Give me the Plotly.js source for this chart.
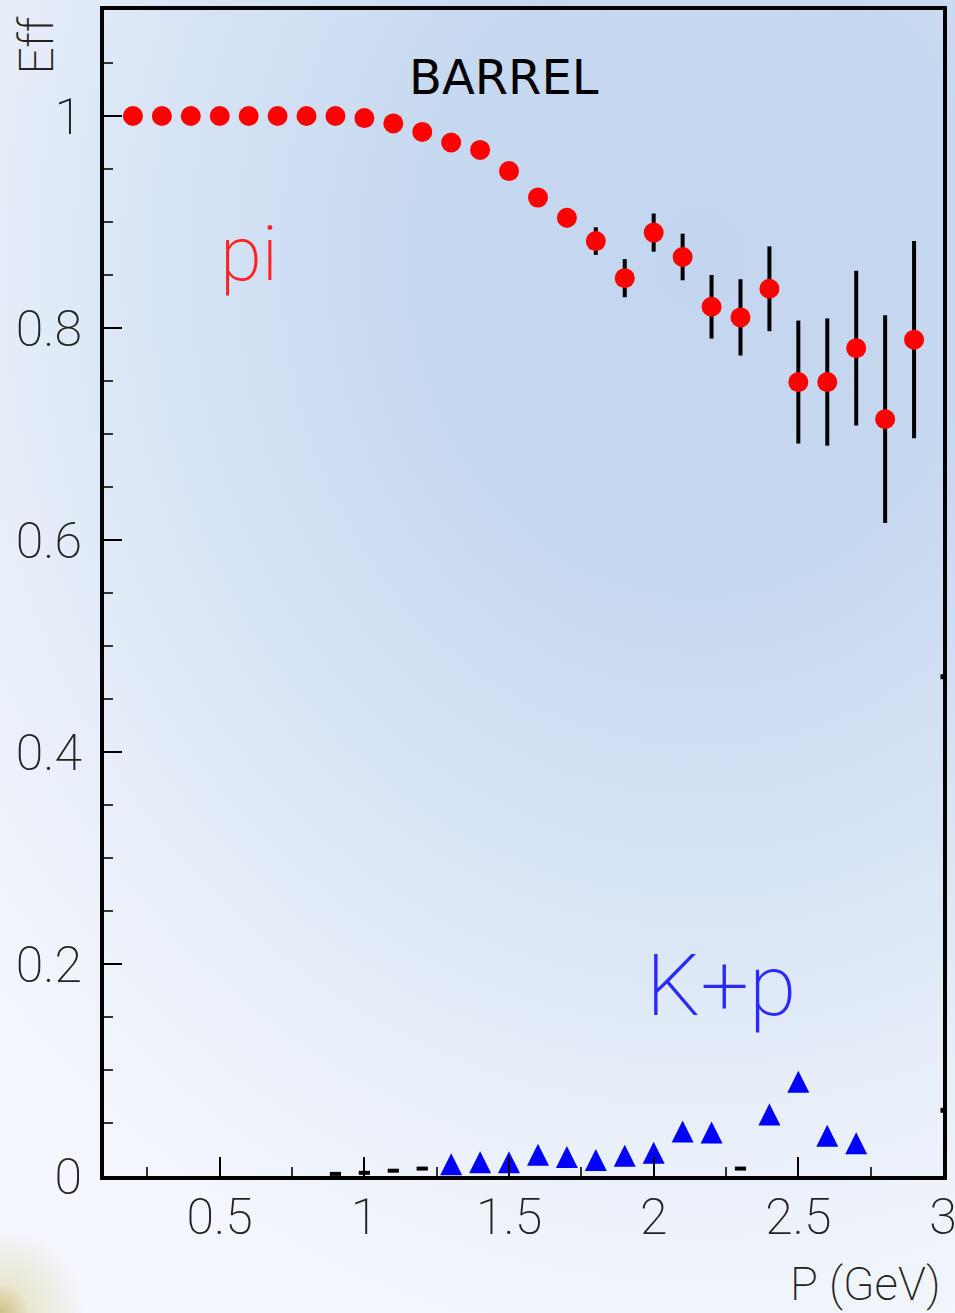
<!DOCTYPE html>
<html>
<head>
<meta charset="utf-8">
<script src="https://cdn.plot.ly/plotly-3.0.1.min.js"></script>
<style>
html, body { margin: 0; padding: 0; width: 955px; height: 1313px; overflow: hidden; }
body {
  background:
    radial-gradient(circle at 0px 1313px, rgba(196,180,100,0.8) 0px, rgba(222,212,160,0.45) 30px, rgba(240,244,250,0) 85px),
    radial-gradient(ellipse 950px 1100px at 700px 260px, #c4d6ef 0%, #c7d9f0 30%, #d6e3f5 55%, #e8eff9 78%, #f3f6fc 100%);
}
#chart { width: 955px; height: 1313px; }
</style>
</head>
<body>
<div id="chart"></div>
<script>
// Pion efficiency vs momentum (BARREL)
const p_pi = [0.2, 0.3, 0.4, 0.5, 0.6, 0.7, 0.8, 0.9, 1.0, 1.1, 1.2, 1.3, 1.4, 1.5,
              1.6, 1.7, 1.8, 1.9, 2.0, 2.1, 2.2, 2.3, 2.4, 2.5, 2.6, 2.7, 2.8, 2.9];
const eff_pi = [1.000, 1.000, 1.000, 1.000, 1.000, 1.000, 1.000, 1.000, 0.998, 0.993,
                0.985, 0.975, 0.968, 0.948, 0.923, 0.904, 0.882, 0.847, 0.890, 0.867,
                0.820, 0.810, 0.837, 0.749, 0.749, 0.781, 0.714, 0.789];
const err_pi = [0, 0, 0, 0, 0, 0, 0, 0, 0.002, 0.003, 0.004, 0.005, 0.006, 0.007,
                0.008, 0.009, 0.013, 0.018, 0.018, 0.022, 0.030, 0.036, 0.040, 0.058,
                0.060, 0.073, 0.098, 0.093];

// K+p misidentification efficiency
const p_kp = [1.3, 1.4, 1.5, 1.6, 1.7, 1.8, 1.9, 2.0, 2.1, 2.2, 2.4, 2.5, 2.6, 2.7];
const eff_kp = [0.011, 0.013, 0.013, 0.020, 0.018, 0.015, 0.019, 0.022, 0.042, 0.041,
                0.058, 0.089, 0.038, 0.031];

// small black markers near zero and at the right edge
const p_low = [0.9, 1.0, 1.1, 1.2, 2.3];
const eff_low = [0.002, 0.003, 0.005, 0.007, 0.007];
const p_edge = [3.0, 3.0];
const eff_edge = [0.471, 0.062];

// tick labels
const xTickVals = [0.5, 1, 1.5, 2, 2.5, 3];
const xTickText = ['0.5', '1', '1.5', '2', '2.5', '3'];
const yTickVals = [0, 0.2, 0.4, 0.6, 0.8, 1];
const yTickText = ['0', '0.2', '0.4', '0.6', '0.8', '1'];

const thinFont = 'Roboto, "DejaVu Sans", sans-serif';

const traces = [
  {
    x: p_low, y: eff_low, type: 'scatter', mode: 'markers',
    marker: { symbol: 'line-ew-open', size: 8, color: 'black', line: { color: 'black', width: 4 } },
    hoverinfo: 'skip'
  },
  {
    x: p_edge, y: eff_edge, type: 'scatter', mode: 'markers', cliponaxis: true,
    marker: { symbol: 'square', size: 5, color: 'black' },
    hoverinfo: 'skip'
  },
  {
    x: p_pi, y: eff_pi, type: 'scatter', mode: 'markers', name: 'pi',
    error_y: { type: 'data', array: err_pi, visible: true, color: 'black', thickness: 4, width: 0 },
    marker: { symbol: 'circle', size: 20, color: '#ff0000' }
  },
  {
    x: p_kp, y: eff_kp, type: 'scatter', mode: 'markers', name: 'K+p',
    marker: { symbol: 'arrow-down', angle: 180, standoff: 11, size: 22, color: '#0000ff' }
  }
];

const layout = {
  width: 955, height: 1313,
  margin: { l: 104, r: 12, t: 10, b: 137 },
  paper_bgcolor: 'rgba(0,0,0,0)',
  plot_bgcolor: 'rgba(0,0,0,0)',
  showlegend: false,
  xaxis: {
    range: [0.1, 3.0],
    tickmode: 'array', tickvals: xTickVals, ticktext: xTickText,
    ticks: 'inside', ticklen: 19, tickwidth: 2, tickcolor: 'black',
    minor: { dtick: 0.25, tick0: 0, ticks: 'inside', ticklen: 9, tickwidth: 2, tickcolor: '#333', showgrid: false },
    showline: true, linewidth: 4, linecolor: 'black', mirror: true,
    showgrid: false, zeroline: false,
    tickfont: { family: thinFont, size: 50, color: '#222', weight: 200 },
    ticklabelstandoff: -6,
    ticklabeloverflow: 'allow'
  },
  yaxis: {
    range: [0, 1.1],
    tickmode: 'array', tickvals: yTickVals, ticktext: yTickText,
    ticks: 'inside', ticklen: 18, tickwidth: 2, tickcolor: 'black',
    minor: { dtick: 0.05, tick0: 0, ticks: 'inside', ticklen: 9, tickwidth: 2, tickcolor: '#333', showgrid: false },
    showline: true, linewidth: 4, linecolor: 'black', mirror: true,
    showgrid: false, zeroline: false,
    tickfont: { family: thinFont, size: 50, color: '#222', weight: 200 },
    ticklabelstandoff: 8,
    ticklabeloverflow: 'allow'
  },
  annotations: [
    { text: 'BARREL', xref: 'x', yref: 'y', x: 1.484, y: 1.037, showarrow: false,
      xanchor: 'center', yanchor: 'middle',
      font: { family: '"DejaVu Sans", sans-serif', size: 48, color: 'black' } },
    { text: 'pi', xref: 'x', yref: 'y', x: 0.60, y: 0.87, showarrow: false,
      xanchor: 'center', yanchor: 'middle',
      font: { family: thinFont, size: 76, color: '#ff2020', weight: 200 } },
    { text: 'K+p', xref: 'x', yref: 'y', x: 2.232, y: 0.18, showarrow: false,
      xanchor: 'center', yanchor: 'middle',
      font: { family: thinFont, size: 86, color: '#2a2aff', weight: 200 } },
    { text: 'Eff', xref: 'paper', yref: 'paper', x: -0.08, y: 0.996, showarrow: false,
      xanchor: 'center', yanchor: 'top', textangle: -90,
      font: { family: thinFont, size: 48, color: '#222', weight: 200 } },
    { text: 'P (GeV)', xref: 'paper', yref: 'paper', x: 1.0, y: -0.068, showarrow: false,
      xanchor: 'right', yanchor: 'top',
      font: { family: thinFont, size: 46, color: '#222', weight: 200 } }
  ]
};

Plotly.newPlot('chart', traces, layout, { displayModeBar: false, staticPlot: true });
</script>
</body>
</html>
